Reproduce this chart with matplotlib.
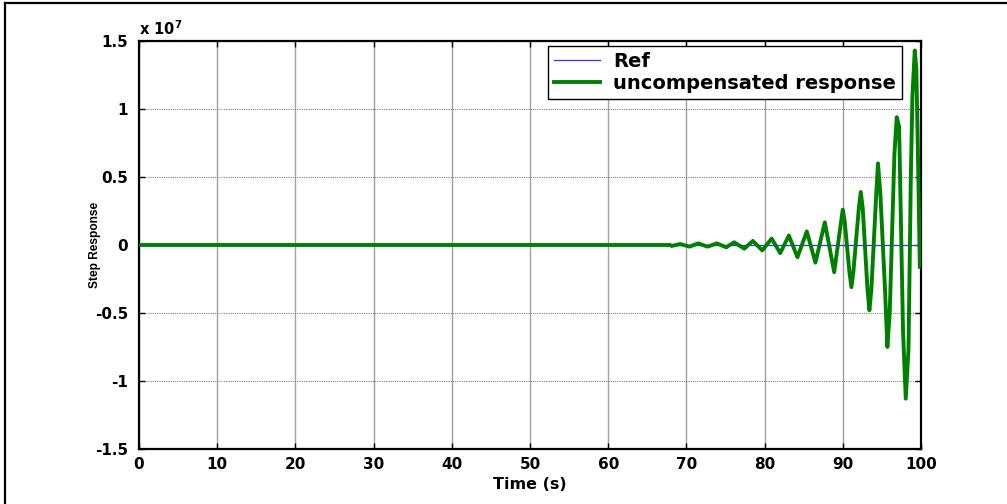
import matplotlib
matplotlib.use("Agg")
import matplotlib.pyplot as plt
from matplotlib.lines import Line2D
from matplotlib.font_manager import FontProperties

# ---- data (values in units of 1e7) ----
ref_t = [0, 100]
ref_y = [1e-7, 1e-7]  # step reference of 1, i.e. 1e-7 x 10^7

resp_t = [0, 67.9, 68.1, 69.2, 70.4, 71.5, 72.7, 73.9, 75.1, 76.1, 77.4, 78.5,
          79.7, 80.9, 82.0, 83.1, 84.2, 85.4, 86.5, 87.7, 88.9,
          89.8, 90.0, 90.25, 90.85, 91.1, 91.35, 92.05, 92.3, 92.55,
          93.15, 93.4, 93.65, 94.3, 94.5, 94.8, 95.4, 95.7, 96.0,
          96.6, 96.9, 97.2, 97.7, 98.05, 98.4, 98.7, 98.9, 99.2, 99.4, 99.6, 99.85]
resp_y = [0, 0, -0.007, 0.007, -0.012, 0.012, -0.012, 0.012, -0.017, 0.02, -0.027, 0.03,
          -0.04, 0.047, -0.06, 0.07, -0.09, 0.10, -0.13, 0.167, -0.20,
          0.18, 0.26, 0.17, -0.20, -0.31, -0.20, 0.27, 0.39, 0.27,
          -0.32, -0.48, -0.33, 0.40, 0.60, 0.38, -0.33, -0.75, -0.50,
          0.67, 0.94, 0.87, -0.63, -1.13, -0.77, 0.50, 1.09, 1.43, 1.30, 0.70, -0.16]

x_ticks = [0, 10, 20, 30, 40, 50, 60, 70, 80, 90, 100]
y_ticks = [-1.5, -1, -0.5, 0, 0.5, 1, 1.5]
y_tick_labels = ["-1.5", "-1", "-0.5", "0", "0.5", "1", "1.5"]
legend_labels = ["Ref", "uncompensated response"]

W, H = 1007, 504
fig = plt.figure(figsize=(W / 100, H / 100), dpi=100)
ax = fig.add_axes([139 / W, (H - 449) / H, (921 - 139) / W, (449 - 41) / H])

ax.plot(ref_t, ref_y, color="#3333ff", lw=0.9, label=legend_labels[0], zorder=3)
ax.plot(resp_t, resp_y, color="#008000", lw=2.8, label=legend_labels[1], zorder=4,
        solid_joinstyle="round")

ax.set_xlim(0, 100)
ax.set_ylim(-1.5, 1.5)
ax.set_xticks(x_ticks)
ax.set_xticklabels([str(v) for v in x_ticks])
ax.set_yticks(y_ticks)
ax.set_yticklabels(y_tick_labels)

tick_fp = FontProperties(family="DejaVu Sans", weight="bold", size=11)
for lab in ax.get_xticklabels() + ax.get_yticklabels():
    lab.set_fontproperties(tick_fp)

ax.tick_params(direction="in", length=4, width=1, top=True, right=True, colors="black")
ax.tick_params(axis="y", pad=8)
ax.tick_params(axis="x", pad=6)

ax.xaxis.grid(True, color="#a0a0a0", ls="-", lw=1.0)
ax.yaxis.grid(True, color="#808080", ls=(0, (1, 1)), lw=0.8)
ax.set_axisbelow(True)
for sp in ax.spines.values():
    sp.set_linewidth(1.6)
    sp.set_color("black")

ax.set_xlabel("Time (s)", family="DejaVu Sans", weight="bold", size=11.5)
ax.xaxis.set_label_coords(0.5, -0.068)
ax.set_ylabel("Step Response", family="Liberation Sans", weight="bold", size=8.6)
ax.yaxis.set_label_coords(-0.049, 0.5)

fig.text(139 / W, 1 - 35 / H, r"x 10$^{\mathbf{7}}$", family="DejaVu Sans", weight="bold",
         size=10.5, ha="left", va="baseline")

leg = ax.legend(loc="upper right", bbox_to_anchor=(902 / W, 1 - 46 / H),
                bbox_transform=fig.transFigure,
                prop=dict(family="DejaVu Sans", weight="bold", size=14),
                handlelength=2.35, handletextpad=0.7, borderpad=0.3,
                labelspacing=0.15, borderaxespad=0, fancybox=False, framealpha=1)
leg.get_frame().set_edgecolor("black")
leg.get_frame().set_linewidth(1.0)

# outer figure border (left and top)
fig.add_artist(Line2D([4.5 / W, 4.5 / W], [0, 1 - 3 / H], transform=fig.transFigure,
                      color="black", lw=1.6))
fig.add_artist(Line2D([4.5 / W, 1], [1 - 3 / H, 1 - 3 / H], transform=fig.transFigure,
                      color="black", lw=1.6))

fig.savefig("out.png", dpi=100)
